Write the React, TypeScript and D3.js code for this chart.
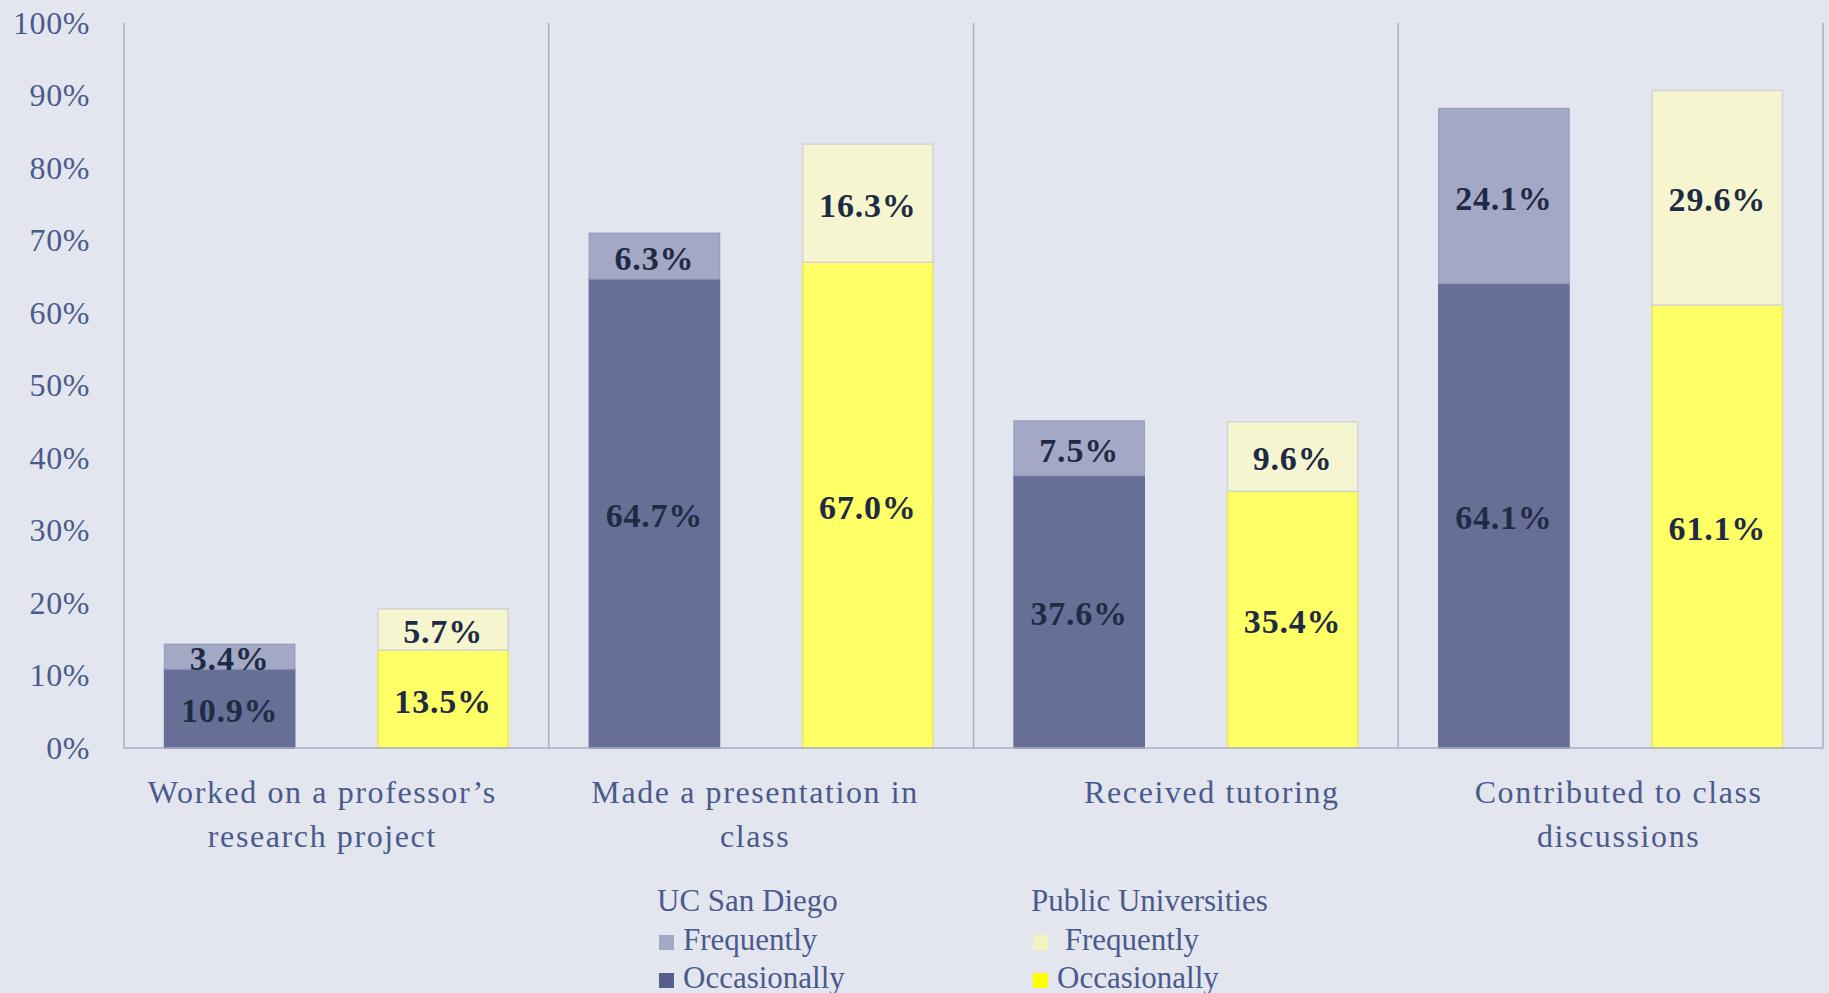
import * as d3 from 'd3';
import { useRef, useEffect } from 'react';

const categories = [
    ["Worked on a professor’s", 'research project'],
    ['Made a presentation in', 'class'],
    ['Received tutoring'],
    ['Contributed to class', 'discussions'],
];
const groups = ['UC San Diego', 'Public Universities'];

// values in percent, per category
const ucsdOccasionally = [10.9, 64.7, 37.6, 64.1];
const ucsdFrequently = [3.4, 6.3, 7.5, 24.1];
const publicOccasionally = [13.5, 67.0, 35.4, 61.1];
const publicFrequently = [5.7, 16.3, 9.6, 29.6];

const yTicks = [0, 10, 20, 30, 40, 50, 60, 70, 80, 90, 100];

const colors = {
    bg: '#E3E6EE',
    ucsdOcc: '#676F97',
    ucsdFreq: '#A3A9C4',
    pubOcc: '#FFFF66',
    pubFreq: '#F5F6D0',
    axis: '#A9AEC8',
    text: '#4B5A8C',
    label: '#1F2B44',
};

const App = () => {
    const svgRef = useRef<SVGSVGElement | null>(null);

    useEffect(() => {
        document.body.style.margin = '0';
        const width = 1829;
        const height = 993;
        const margin = { top: 23, right: 6, bottom: 245, left: 124 };

        d3.select(svgRef.current).selectAll('*').remove();
        const svg = d3.select(svgRef.current)
            .attr('width', width)
            .attr('height', height);

        svg.append('rect').attr('width', width).attr('height', height).attr('fill', colors.bg);

        const keys = categories.map((_, i) => String(i));
        const x = d3.scaleBand()
            .domain(keys)
            .range([margin.left, width - margin.right]);

        const xInner = d3.scaleBand()
            .domain(groups)
            .range([0, x.bandwidth()])
            .paddingInner(0.39)
            .paddingOuter(0.19);

        const y = d3.scaleLinear()
            .domain([0, 100])
            .range([height - margin.bottom, margin.top]);

        const serif = '"Liberation Serif", "Times New Roman", serif';

        // y tick labels
        svg.append('g').selectAll('text')
            .data(yTicks)
            .enter()
            .append('text')
            .attr('x', margin.left - 34)
            .attr('y', d => y(d))
            .attr('dy', '0.34em')
            .attr('text-anchor', 'end')
            .attr('font-family', serif)
            .attr('font-size', 32)
            .attr('letter-spacing', 0.6)
            .attr('fill', colors.text)
            .text(d => `${d}%`);

        // stacked data
        const stacks = keys.map((k, i) => ([
            { cat: k, group: groups[0], base: 0, value: ucsdOccasionally[i], fill: colors.ucsdOcc, stroke: colors.ucsdOcc },
            { cat: k, group: groups[0], base: ucsdOccasionally[i], value: ucsdFrequently[i], fill: colors.ucsdFreq, stroke: '#98A0BF' },
            { cat: k, group: groups[1], base: 0, value: publicOccasionally[i], fill: colors.pubOcc, stroke: '#E6E665' },
            { cat: k, group: groups[1], base: publicOccasionally[i], value: publicFrequently[i], fill: colors.pubFreq, stroke: '#D2D4D6' },
        ])).flat();

        const bars = svg.append('g');
        bars.selectAll('rect')
            .data(stacks)
            .enter()
            .append('rect')
            .attr('x', d => x(d.cat)! + xInner(d.group)!)
            .attr('y', d => y(d.base + d.value))
            .attr('width', xInner.bandwidth())
            .attr('height', d => y(d.base) - y(d.base + d.value))
            .attr('fill', d => d.fill)
            .attr('stroke', d => d.stroke)
            .attr('stroke-width', 1.5);

        bars.selectAll('text')
            .data(stacks)
            .enter()
            .append('text')
            .attr('x', d => x(d.cat)! + xInner(d.group)! + xInner.bandwidth() / 2)
            .attr('y', d => y(d.base + d.value / 2))
            .attr('dy', '0.4em')
            .attr('text-anchor', 'middle')
            .attr('font-family', serif)
            .attr('font-weight', 'bold')
            .attr('font-size', 34)
            .attr('letter-spacing', 0.8)
            .attr('fill', colors.label)
            .text(d => `${d.value.toFixed(1)}%`);

        // axis + category dividers
        const axisG = svg.append('g')
            .attr('stroke', colors.axis)
            .attr('stroke-width', 1.5);
        axisG.append('line')
            .attr('x1', margin.left).attr('x2', width - margin.right)
            .attr('y1', y(0)).attr('y2', y(0));
        axisG.selectAll('line.div')
            .data([...keys.map(k => x(k)!), width - margin.right])
            .enter()
            .append('line')
            .attr('class', 'div')
            .attr('x1', d => d).attr('x2', d => d)
            .attr('y1', y(100)).attr('y2', y(0));

        // category labels (Excel wraps them slightly off-centre)
        const labelShift = [-14, -6, 26, 8];
        svg.append('g').selectAll('text')
            .data(categories)
            .enter()
            .append('text')
            .attr('font-family', serif)
            .attr('font-size', 32)
            .attr('letter-spacing', 1.6)
            .attr('fill', colors.text)
            .attr('text-anchor', 'middle')
            .each(function (lines, i) {
                const self = d3.select(this);
                lines.forEach((line, j) => {
                    self.append('tspan')
                        .attr('x', x(String(i))! + x.bandwidth() / 2 + labelShift[i])
                        .attr('y', y(0) + 55 + j * 44)
                        .text(line);
                });
            });

        // legend
        const legendItems = [
            { x: 657, title: groups[0], rows: [['Frequently', colors.ucsdFreq], ['Occasionally', '#555E8A']] },
            { x: 1031, title: groups[1], rows: [[' Frequently', '#F3F3C0'], ['Occasionally', '#FFFF00']] },
        ];
        const legend = svg.append('g')
            .attr('font-family', serif)
            .attr('font-size', 31)
            .attr('fill', colors.text);
        legendItems.forEach(item => {
            legend.append('text')
                .attr('x', item.x)
                .attr('y', 911)
                .text(item.title);
            item.rows.forEach(([label, c], j) => {
                legend.append('rect')
                    .attr('x', item.x + 2)
                    .attr('y', 935 + j * 38)
                    .attr('width', 15)
                    .attr('height', 15)
                    .attr('fill', c);
                legend.append('text')
                    .attr('x', item.x + 26)
                    .attr('y', 950 + j * 38)
                    .attr('xml:space', 'preserve')
                    .style('white-space', 'pre')
                    .text(label);
            });
        });
    }, []);

    return <svg ref={svgRef} style={{ display: 'block' }}></svg>;
};

export default App;
